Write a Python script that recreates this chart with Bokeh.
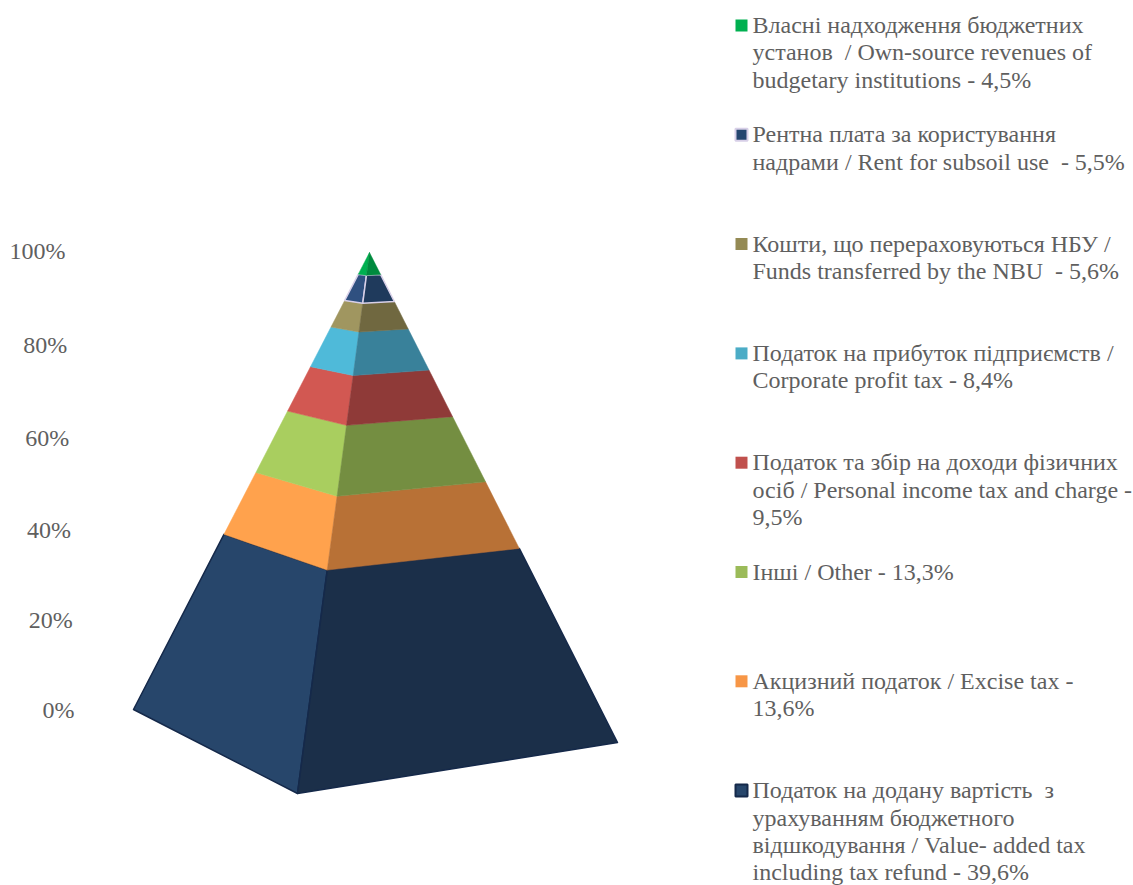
from bokeh.plotting import figure
from bokeh.models import Range1d
from bokeh.core.properties import value
from bokeh.embed import file_html
from bokeh.resources import INLINE

# ---- data (bottom of the pyramid first) ----
shares = [39.6, 13.6, 13.3, 9.5, 8.4, 5.6, 5.5, 4.5]
legend_lines = [
    ["Податок на додану вартість \u00a0з", "урахуванням бюджетного", "відшкодування / Value- added tax", "including tax refund - 39,6%"],
    ["Акцизний податок / Excise tax -", "13,6%"],
    ["Інші / Other - 13,3%"],
    ["Податок та збір на доходи фізичних", "осіб / Personal income tax and charge -", "9,5%"],
    ["Податок на прибуток підприємств /", "Corporate profit tax - 8,4%"],
    ["Кошти, що перераховуються НБУ /", "Funds transferred by the NBU \u00a0- 5,6%"],
    ["Рентна плата за користування", "надрами / Rent for subsoil use \u00a0- 5,5%"],
    ["Власні надходження бюджетних", "установ \u00a0/ Own-source revenues of", "budgetary institutions - 4,5%"],
]
tick_values = [0, 20, 40, 60, 80, 100]
tick_labels = ["0%", "20%", "40%", "60%", "80%", "100%"]

# ---- styles ----
left_colors = ["#27466B", "#FFA24D", "#A9CE5F", "#D25852", "#4FBAD9", "#A09660", "#2F5080", "#00B050"]
right_colors = ["#1B2F49", "#B87136", "#748E41", "#8F3A38", "#39819A", "#706840", "#1F3A5C", "#008A3E"]
legend_colors = ["#27466B", "#F79646", "#9BBB59", "#C0504D", "#4BACC6", "#948A54", "#24466F", "#00B050"]
edge_colors = ["#15294A", None, None, None, None, None, "#D8D0E8", None]
TEXT = "#5F5F5F"
FONT = "Liberation Serif"
FS = "24px"

# ---- projection of the pyramid on to the page ----
APEX = (369.0, 252.0)
CORNERS = {"left": ((133.0, 709.0), 0.948), "front": ((297.0, 793.0), 1.073), "right": ((617.0, 742.0), 1.0)}


def edge_point(name, pct):
    (cx, cy), a = CORNERS[name]
    t = pct / 100.0
    t = a * t / (1 + (a - 1) * t)
    return cx + t * (APEX[0] - cx), cy + t * (APEX[1] - cy)


p = figure(width=1133, height=885, output_backend="svg", toolbar_location=None,
           x_range=Range1d(0, 1133), y_range=Range1d(885, 0),
           min_border=0, outline_line_color=None)
p.axis.visible = False
p.grid.visible = False
p.background_fill_color = "white"
p.border_fill_color = "white"

bottom = 0.0
for i, share in enumerate(shares):
    top = min(bottom + share, 100.0) if i < len(shares) - 1 else 100.0
    for a, b, col in (("left", "front", left_colors[i]), ("front", "right", right_colors[i])):
        pts = [edge_point(a, bottom), edge_point(b, bottom), edge_point(b, top), edge_point(a, top)]
        p.patch([q[0] for q in pts], [q[1] for q in pts], fill_color=col,
                line_color=edge_colors[i] or col, line_width=1.5 if edge_colors[i] else 0.5,
                line_join="round")
    bottom = top

# value "axis" on the slanted left edge
y0, y1 = 709.5, 250.5
tick_a = 0.97
tys, txs = [], []
for v in tick_values:
    t = v / 100.0
    t = tick_a * t / (1 + (tick_a - 1) * t)
    tys.append(y0 + t * (y1 - y0))
    txs.append(74 - 9 * t)
p.text(x=txs, y=tys, text=tick_labels, text_align="right", text_baseline="middle",
       text_font=value(FONT), text_font_size=value(FS), text_color=TEXT)

# legend, top entry = last series
STEP = 109.3
for i, lines in enumerate(legend_lines):
    cy = 25 + STEP * (len(legend_lines) - 1 - i)
    border = edge_colors[i]
    p.scatter([741], [cy], marker="square", size=12, fill_color=legend_colors[i],
              line_color=border or legend_colors[i], line_width=2 if border else 0)
    p.text(x=[752] * len(lines), y=[cy - 0.5 + 27.4 * k for k in range(len(lines))], text=lines,
           text_align="left", text_baseline="middle",
           text_font=value(FONT), text_font_size=value(FS), text_color=TEXT)

open("out.html", "w").write(file_html(p, INLINE))
